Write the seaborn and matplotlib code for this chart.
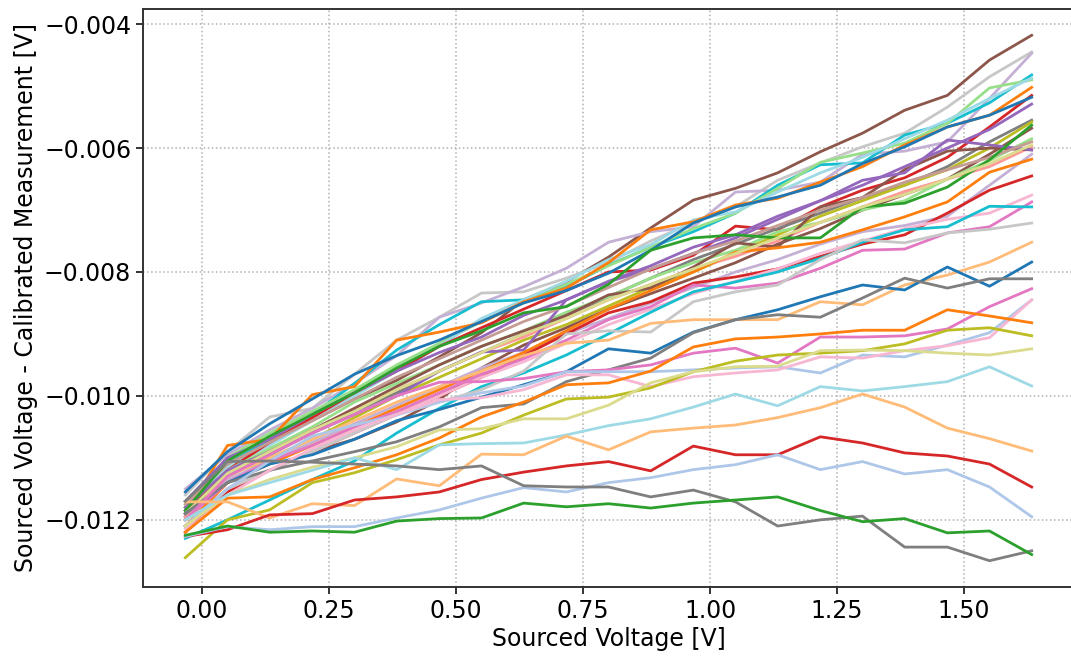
import pandas as pd
import matplotlib
matplotlib.use("Agg")
import matplotlib.pyplot as plt
import seaborn as sns

# Sourced voltage steps [V]
SOURCED_V = [-0.033, 0.050, 0.133, 0.217, 0.300, 0.383, 0.467, 0.550, 0.633, 0.717, 0.800,
             0.883, 0.967, 1.050, 1.133, 1.217, 1.300, 1.383, 1.467, 1.550, 1.633]

run_01 = [-11.80, -11.10, -10.75, -10.40, -10.05, -9.75, -9.37, -8.98, -8.45, -8.16, -7.76, -7.29, -6.84, -6.65, -6.40, -6.06, -5.76, -5.39, -5.15, -4.58, -4.18]
run_02 = [-11.60, -10.90, -10.34, -10.20, -9.65, -9.10, -8.73, -8.34, -8.32, -8.10, -7.85, -7.50, -7.20, -6.95, -6.52, -6.24, -5.98, -5.76, -5.34, -4.85, -4.45]
run_03 = [-11.50, -10.95, -10.55, -10.20, -9.80, -9.35, -8.73, -8.50, -8.24, -7.94, -7.52, -7.35, -7.27, -6.71, -6.68, -6.55, -6.10, -6.05, -5.90, -5.20, -4.47]
run_04 = [-11.70, -11.10, -10.70, -10.30, -9.80, -9.26, -8.85, -8.48, -8.45, -8.24, -7.89, -7.60, -7.35, -7.05, -6.60, -6.27, -6.24, -5.79, -5.60, -5.27, -4.82]
run_05 = [-11.70, -11.00, -10.60, -10.25, -9.90, -9.50, -9.15, -8.80, -8.50, -8.20, -7.90, -7.60, -7.30, -7.05, -6.65, -6.23, -6.08, -5.92, -5.60, -5.03, -4.90]
run_06 = [-11.75, -11.15, -10.80, -10.40, -10.00, -9.60, -9.20, -8.75, -8.45, -8.15, -7.80, -7.56, -7.16, -7.03, -6.71, -6.40, -6.15, -5.85, -5.55, -5.20, -4.87]
run_07 = [-11.90, -10.80, -10.70, -9.98, -9.85, -9.10, -8.97, -8.82, -8.48, -8.26, -7.85, -7.32, -7.19, -6.92, -6.81, -6.55, -6.30, -5.95, -5.66, -5.47, -5.02]
run_08 = [-11.95, -11.20, -10.75, -10.35, -9.95, -9.60, -9.20, -8.90, -8.60, -8.30, -8.00, -7.97, -7.73, -7.26, -7.32, -6.95, -6.68, -6.48, -6.15, -5.66, -5.15]
run_09 = [-11.55, -10.90, -10.45, -10.05, -9.65, -9.35, -9.10, -8.80, -8.50, -8.30, -8.02, -7.65, -7.21, -6.95, -6.79, -6.60, -6.25, -5.98, -5.66, -5.47, -5.18]
run_10 = [-11.70, -11.00, -10.70, -10.30, -9.95, -9.60, -9.30, -9.05, -8.70, -8.45, -8.15, -7.90, -7.60, -7.40, -7.10, -6.85, -6.60, -6.30, -6.00, -5.70, -5.29]
run_11 = [-11.90, -11.30, -10.95, -10.60, -10.25, -9.95, -9.60, -9.30, -9.00, -8.70, -8.40, -8.10, -7.80, -7.55, -7.30, -7.05, -6.80, -6.60, -6.30, -5.90, -5.55]
run_12 = [-12.00, -11.40, -11.00, -10.70, -10.35, -10.00, -9.70, -9.40, -9.10, -8.85, -8.55, -8.25, -8.00, -7.70, -7.40, -7.10, -6.85, -6.60, -6.35, -6.00, -5.58]
run_13 = [-12.10, -11.50, -11.20, -10.90, -10.70, -10.42, -10.06, -9.55, -9.18, -8.90, -8.60, -8.35, -8.10, -7.85, -7.55, -7.30, -7.00, -6.75, -6.50, -6.10, -5.68]
run_14 = [-11.80, -11.20, -10.85, -10.50, -10.10, -9.80, -9.50, -9.20, -8.95, -8.65, -8.40, -8.10, -7.85, -7.65, -7.35, -7.20, -7.00, -6.85, -6.50, -6.20, -5.85]
run_15 = [-11.95, -11.30, -10.90, -10.55, -10.20, -9.90, -9.60, -9.30, -9.05, -8.75, -8.45, -8.20, -7.95, -7.75, -7.50, -7.20, -6.95, -6.70, -6.50, -6.30, -5.98]
run_16 = [-11.85, -11.25, -10.90, -10.55, -10.20, -9.85, -9.50, -9.20, -8.95, -8.70, -8.37, -8.26, -7.92, -7.53, -7.60, -6.95, -6.80, -6.35, -6.05, -6.00, -6.03]
run_17 = [-11.80, -11.20, -10.90, -10.60, -10.30, -10.00, -9.60, -9.29, -9.26, -8.45, -8.16, -7.95, -7.70, -7.45, -7.15, -6.85, -6.52, -6.40, -5.87, -5.95, -6.03]
run_18 = [-12.00, -11.35, -11.05, -10.75, -10.45, -10.15, -9.85, -9.55, -9.30, -9.00, -8.75, -8.50, -8.25, -8.00, -7.80, -7.55, -7.35, -7.25, -7.10, -6.60, -6.10]
run_19 = [-12.10, -11.40, -11.10, -10.80, -10.50, -10.20, -9.90, -9.60, -9.30, -8.95, -8.60, -8.30, -8.00, -7.68, -7.61, -7.52, -7.32, -7.11, -6.87, -6.39, -6.18]
run_20 = [-12.20, -11.55, -11.20, -10.90, -10.60, -10.30, -10.00, -9.70, -9.35, -9.00, -8.66, -8.48, -8.18, -8.08, -7.95, -7.75, -7.55, -7.40, -7.05, -6.68, -6.45]
run_21 = [-12.15, -11.50, -11.20, -10.90, -10.60, -10.30, -10.00, -9.70, -9.45, -9.15, -8.85, -8.60, -8.35, -8.15, -7.95, -7.70, -7.50, -7.30, -7.15, -7.05, -6.76]
run_22 = [-12.00, -11.40, -11.05, -10.80, -10.50, -10.25, -9.95, -9.65, -9.40, -9.10, -8.77, -8.56, -8.21, -8.26, -8.18, -7.94, -7.65, -7.63, -7.37, -7.27, -6.87]
run_23 = [-11.75, -11.10, -10.75, -10.40, -10.05, -9.70, -9.40, -9.10, -8.80, -8.55, -8.25, -7.95, -7.70, -7.50, -7.25, -7.00, -6.80, -6.55, -6.35, -6.15, -5.90]
run_24 = [-11.85, -11.05, -10.65, -10.30, -9.95, -9.55, -9.20, -8.95, -8.66, -8.56, -8.20, -7.65, -7.45, -7.40, -7.45, -7.45, -6.95, -6.89, -6.63, -6.19, -5.63]
run_25 = [-11.90, -11.25, -10.90, -10.55, -10.25, -9.90, -9.60, -9.30, -9.00, -8.75, -8.45, -8.20, -7.95, -7.70, -7.45, -7.20, -6.95, -6.75, -6.50, -6.25, -5.95]
run_26 = [-12.30, -12.00, -11.68, -11.35, -11.05, -10.60, -10.20, -9.85, -9.63, -9.34, -9.00, -8.65, -8.32, -8.16, -8.00, -7.78, -7.52, -7.32, -7.27, -6.94, -6.95]
run_27 = [-12.10, -11.50, -11.20, -10.90, -10.60, -10.30, -10.10, -9.90, -9.60, -9.00, -8.95, -8.97, -8.48, -8.32, -8.21, -7.80, -7.48, -7.53, -7.37, -7.31, -7.21]
run_28 = [-12.00, -11.30, -11.00, -10.70, -10.40, -10.10, -9.85, -9.60, -9.35, -9.15, -9.10, -8.83, -8.77, -8.77, -8.77, -8.48, -8.53, -8.21, -8.05, -7.84, -7.52]
run_29 = [-11.90, -11.40, -11.10, -10.95, -10.70, -10.40, -10.22, -10.02, -9.82, -9.61, -9.24, -9.31, -8.97, -8.77, -8.61, -8.40, -8.21, -8.29, -7.92, -8.23, -7.84]
run_30 = [-11.90, -11.40, -11.20, -11.05, -10.90, -10.74, -10.50, -10.19, -10.13, -9.77, -9.58, -9.39, -8.98, -8.77, -8.69, -8.73, -8.42, -8.10, -8.26, -8.11, -8.11]
run_31 = [-12.00, -11.30, -10.95, -10.60, -10.30, -10.00, -9.78, -9.77, -9.72, -9.61, -9.58, -9.50, -9.31, -9.23, -9.47, -9.05, -9.05, -9.03, -8.92, -8.56, -8.27]
run_32 = [-12.10, -11.50, -11.05, -10.65, -10.47, -10.31, -10.10, -9.95, -9.84, -9.61, -9.61, -9.61, -9.58, -9.55, -9.53, -9.63, -9.34, -9.37, -9.18, -8.98, -8.45]
run_33 = [-12.20, -11.60, -11.20, -10.85, -10.55, -10.30, -10.06, -10.03, -9.90, -9.66, -9.66, -9.85, -9.69, -9.63, -9.58, -9.37, -9.39, -9.27, -9.19, -9.06, -8.45]
run_34 = [-12.20, -11.65, -11.63, -11.35, -11.16, -10.95, -10.68, -10.34, -10.10, -9.82, -9.79, -9.60, -9.21, -9.08, -9.05, -9.00, -8.94, -8.94, -8.61, -8.71, -8.82]
run_35 = [-12.61, -12.00, -11.84, -11.40, -11.24, -11.03, -10.79, -10.60, -10.31, -10.05, -10.02, -9.87, -9.61, -9.44, -9.34, -9.31, -9.27, -9.16, -8.94, -8.90, -9.03]
run_36 = [-12.10, -11.60, -11.35, -11.15, -11.00, -10.82, -10.55, -10.53, -10.37, -10.37, -10.15, -9.79, -9.61, -9.53, -9.52, -9.27, -9.26, -9.27, -9.31, -9.34, -9.24]
run_37 = [-12.00, -11.60, -11.40, -11.20, -11.00, -11.19, -10.79, -10.77, -10.76, -10.63, -10.48, -10.37, -10.18, -9.97, -10.16, -9.85, -9.92, -9.85, -9.77, -9.53, -9.84]
run_38 = [-11.71, -11.71, -11.97, -11.74, -11.77, -11.34, -11.45, -10.94, -10.95, -10.65, -10.87, -10.58, -10.52, -10.47, -10.35, -10.19, -9.97, -10.18, -10.52, -10.69, -10.89]
run_39 = [-12.27, -12.16, -11.92, -11.90, -11.68, -11.63, -11.55, -11.35, -11.23, -11.13, -11.06, -11.21, -10.81, -10.95, -10.95, -10.66, -10.76, -10.92, -10.97, -11.10, -11.47]
run_40 = [-12.27, -12.11, -12.16, -12.11, -12.11, -11.97, -11.84, -11.65, -11.48, -11.55, -11.40, -11.32, -11.19, -11.11, -10.95, -11.19, -11.06, -11.26, -11.19, -11.47, -11.95]
run_41 = [-11.70, -11.06, -11.05, -11.07, -11.10, -11.13, -11.19, -11.13, -11.45, -11.47, -11.47, -11.63, -11.52, -11.71, -12.10, -12.00, -11.94, -12.44, -12.44, -12.66, -12.50]
run_42 = [-12.25, -12.10, -12.20, -12.18, -12.20, -12.02, -11.98, -11.97, -11.73, -11.79, -11.74, -11.81, -11.73, -11.68, -11.63, -11.85, -12.03, -11.98, -12.21, -12.18, -12.56]

RUNS = [run_01, run_02, run_03, run_04, run_05, run_06, run_07, run_08, run_09, run_10,
        run_11, run_12, run_13, run_14, run_15, run_16, run_17, run_18, run_19, run_20,
        run_21, run_22, run_23, run_24, run_25, run_26, run_27, run_28, run_29, run_30,
        run_31, run_32, run_33, run_34, run_35, run_36, run_37, run_38, run_39, run_40,
        run_41, run_42]

# index into the tab20 palette for each run
COLOR_IDX = [10, 15, 9, 18, 5, 19, 2, 6, 0, 8,
             14, 16, 10, 5, 7, 10, 8, 9, 2, 6,
             13, 12, 11, 4, 17, 18, 15, 3, 0, 14,
             12, 1, 13, 2, 16, 17, 19, 3, 6, 1,
             14, 4]


def armar_tabla():
    filas = []
    for n, valores in enumerate(RUNS):
        for v, mv in zip(SOURCED_V, valores):
            filas.append({"run": f"run_{n + 1:02d}", "sourced": v, "delta": mv * 1e-3})
    return pd.DataFrame(filas)


def graficar(df):
    tab20 = sns.color_palette("tab20")
    nombres = [f"run_{n + 1:02d}" for n in range(len(RUNS))]
    paleta = {nom: tab20[c] for nom, c in zip(nombres, COLOR_IDX)}

    plt.rcParams["font.family"] = ["DejaVu Sans"]
    fig = plt.figure(figsize=(10.71, 6.56), dpi=100)
    ax = fig.add_axes([143 / 1071, 69 / 656, 931 / 1071, 578 / 656])

    sns.lineplot(data=df, x="sourced", y="delta", hue="run", hue_order=nombres,
                 palette=paleta, legend=False, errorbar=None, linewidth=2.0, ax=ax)

    ax.grid(True, linestyle=":", color="#b0b0b0", linewidth=1.1)
    ax.set_axisbelow(True)
    for lado in ["left", "bottom", "top", "right"]:
        ax.spines[lado].set_linewidth(1.4)
        ax.spines[lado].set_color("#333333")
    ax.tick_params(labelsize=17, length=5, width=1.4, color="#333333")
    ax.set_xlabel("Sourced Voltage [V]", fontsize=17, labelpad=3)
    ax.set_ylabel("Sourced Voltage - Calibrated Measurement [V]", fontsize=17)

    fig.savefig("out.png", dpi=100)
    plt.close(fig)


def main():
    df = armar_tabla()
    graficar(df)


if __name__ == "__main__":
    main()
